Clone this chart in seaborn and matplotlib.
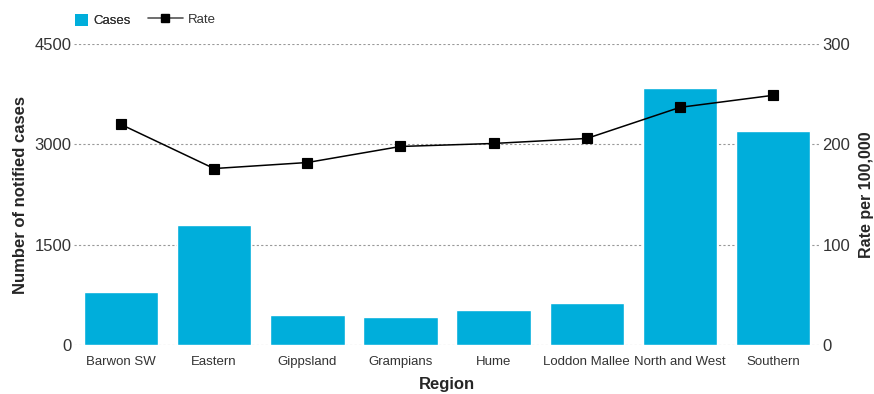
"""
Notified cases and rate per 100,000 by region: bars for cases, line for rate.
"""
import matplotlib.pyplot as plt
import seaborn as sns
from matplotlib.lines import Line2D
from matplotlib.patches import Patch

regions = ['Barwon SW', 'Eastern', 'Gippsland', 'Grampians', 'Hume',
           'Loddon Mallee', 'North and West', 'Southern']
cases = [795, 1795, 450, 420, 525, 630, 3840, 3200]
rates = [220, 176, 182, 198, 201, 206, 237, 249]

left_ticks = [0, 1500, 3000, 4500]
right_ticks = [0, 100, 200, 300]

BAR_COLOR = '#00AEDB'
TEXT_COLOR = '#333333'


def main() -> None:
    sns.set_style('white')
    plt.rcParams['font.family'] = ['Liberation Sans', 'DejaVu Sans']

    fig = plt.figure(figsize=(8.74, 3.94), dpi=100)
    ax = fig.add_axes([0.085, 0.124, 0.853, 0.764])

    # Bars: number of notified cases
    sns.barplot(x=regions, y=cases, ax=ax, color=BAR_COLOR, saturation=1,
                width=0.8, zorder=2)
    ax.set_ylim(0, 4500)
    ax.set_yticks(left_ticks)
    ax.set_xlim(-0.5, len(regions) - 0.5)
    ax.grid(axis='y', color='#999999', linestyle=(0, (2, 2)), linewidth=0.8)
    ax.set_axisbelow(True)

    # Line: rate per 100,000 on the right axis
    ax2 = ax.twinx()
    sns.pointplot(x=regions, y=rates, ax=ax2, color='black', markers='s',
                  markersize=7, linewidth=1.1, zorder=3)
    ax2.set_ylim(0, 300)
    ax2.set_yticks(right_ticks)
    ax2.set_xlim(-0.5, len(regions) - 0.5)

    for a in (ax, ax2):
        sns.despine(ax=a, left=True, right=True, top=True, bottom=True)
        a.tick_params(axis='both', length=0, colors=TEXT_COLOR)
        a.tick_params(axis='y', labelsize=12, pad=2)
        a.tick_params(axis='x', labelsize=9.5, pad=8)

    ax.set_xlabel('Region', fontsize=12, fontweight='bold', labelpad=6)
    ax.set_ylabel('Number of notified cases', fontsize=12, fontweight='bold',
                  labelpad=5)
    ax2.set_ylabel('Rate per 100,000', fontsize=11.5, fontweight='bold',
                   labelpad=6)

    # Legend above the plot, two pieces so the line handle can be longer
    cases_handle = Patch(facecolor=BAR_COLOR, edgecolor='none', label='Cases')
    rate_handle = Line2D([], [], color='#555555', linewidth=1.2, marker='s',
                         markersize=6, markerfacecolor='black',
                         markeredgecolor='black', label='Rate')
    leg1 = fig.legend(handles=[cases_handle], loc='upper left',
                      bbox_to_anchor=(0.072, 0.995), frameon=False,
                      fontsize=9.5, handlelength=1.0, handleheight=1.0,
                      handletextpad=0.4)
    fig.add_artist(leg1)
    leg2 = fig.legend(handles=[rate_handle], loc='upper left',
                      bbox_to_anchor=(0.156, 0.995), frameon=False,
                      fontsize=9.5, handlelength=2.6, handletextpad=0.4)
    for leg in (leg1, leg2):
        for text in leg.get_texts():
            text.set_color(TEXT_COLOR)

    fig.savefig('out.png', dpi=100)


if __name__ == '__main__':
    main()
